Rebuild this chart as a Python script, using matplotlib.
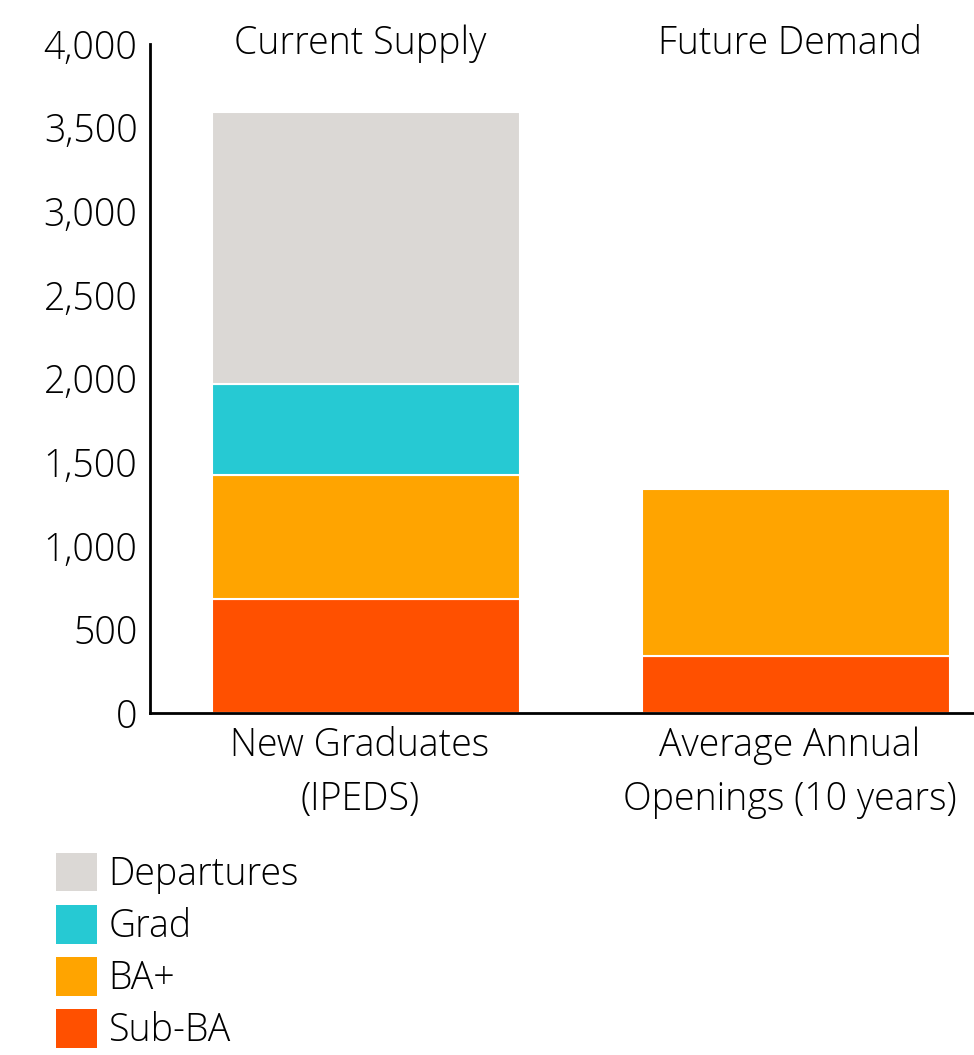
import matplotlib
matplotlib.use("Agg")
import matplotlib.pyplot as plt
from matplotlib.patches import Patch
import numpy as np

categories = ["New Graduates\n(IPEDS)", "Average Annual\nOpenings (10 years)"]
headers = ["Current Supply", "Future Demand"]
series_names = ["Sub-BA", "BA+", "Grad", "Departures"]
sub_ba = [680, 340]
ba_plus = [745, 1000]
grad = [540, 0]
departures = [1630, 0]
colors = {"Sub-BA": "#FF5000", "BA+": "#FFA400", "Grad": "#26C9D3", "Departures": "#DBD8D5"}
yticks = [0, 500, 1000, 1500, 2000, 2500, 3000, 3500, 4000]

plt.rcParams['font.family'] = ['Open Sans', 'DejaVu Sans']
FS = 27

fig = plt.figure(figsize=(9.74, 10.55), dpi=100)
W, H = 974, 1055
ax = fig.add_axes([150 / W, (H - 713) / H, 824 / W, 669 / H])

x = np.arange(len(categories))
width = 0.716
bottom = np.zeros(len(categories))
for name, vals in zip(series_names, [sub_ba, ba_plus, grad, departures]):
    vals = np.array(vals, dtype=float)
    mask = vals > 0
    ax.bar(x[mask], vals[mask], width, bottom=bottom[mask], color=colors[name],
           edgecolor="white", linewidth=1.5, label=name)
    bottom += vals

ax.set_xlim(-0.502, 1.414)
ax.set_ylim(0, 4000)
ax.set_yticks(yticks)
ax.set_yticklabels([f"{v:,}" for v in yticks], fontsize=FS, fontweight="light")
ax.set_xticks(x - 0.014)
ax.set_xticklabels(categories, fontsize=FS, fontweight="light", linespacing=1.5)
ax.tick_params(axis="y", length=0, pad=9)
ax.tick_params(axis="x", length=0, pad=10)
for s in ["top", "right"]:
    ax.spines[s].set_visible(False)
for s in ["left", "bottom"]:
    ax.spines[s].set_linewidth(2)
    ax.spines[s].set_color("black")

for xi, h in zip(x, headers):
    ax.text(xi - 0.014, 1.0, h, transform=ax.get_xaxis_transform(), ha="center", va="center",
            fontsize=FS, fontweight="light")

handles = [Patch(facecolor=colors[n], label=n) for n in ["Departures", "Grad", "BA+", "Sub-BA"]]
leg = fig.legend(handles=handles, loc="upper left", bbox_to_anchor=(41 / W, 1 - 838 / H),
                 frameon=False, prop={"size": FS, "weight": "light"},
                 handlelength=1.1, handleheight=1.2, handletextpad=0.3, labelspacing=0.3,
                 borderaxespad=0)

fig.savefig("out.png", dpi=100)
